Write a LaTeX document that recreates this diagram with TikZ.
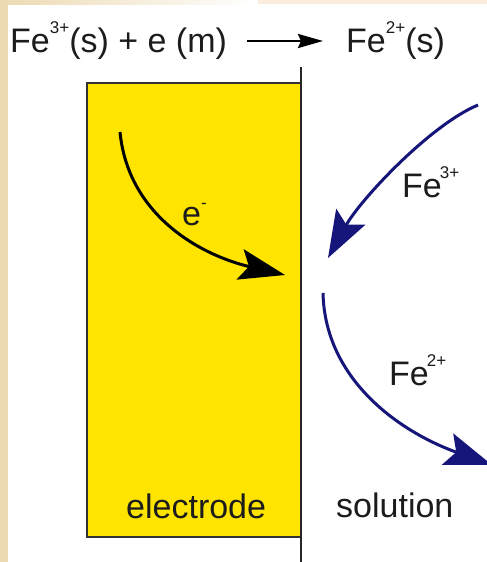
\documentclass[tikz,border=0pt]{standalone}
\usepackage{fontspec}
\setmainfont{Liberation Sans}
\usetikzlibrary{arrows.meta}
\definecolor{elyellow}{RGB}{255,228,0}
\definecolor{ionblue}{RGB}{22,22,122}
\definecolor{parch}{RGB}{236,218,178}
\definecolor{peach}{RGB}{252,236,221}
\definecolor{ink}{RGB}{28,28,28}
\newcommand\chgsup[2]{\kern#1\raisebox{19pt}{\fontsize{17}{17}\selectfont #2}}
\begin{document}
\begin{tikzpicture}[x=1pt,y=-1pt,
  lbl/.style={anchor=base west,inner sep=0pt,text=ink,font=\fontsize{34}{38}\selectfont},
  eflow/.style={line width=3pt,draw=black,-{Stealth[length=46pt,width=31pt,inset=9pt]}},
  ionflow/.style={line width=3pt,draw=ionblue,-{Stealth[length=47pt,width=33pt,inset=9pt]}},
  rxn/.style={line width=2.6pt,-{Stealth[length=25pt,width=14pt,inset=3pt]}}]
\useasboundingbox (0,0) rectangle (487,562);
\clip (0,0) rectangle (487,562);
% background
\fill[white] (0,0) rectangle (487,562);
\fill[parch] (0,0) rectangle (8,562);
\shade[left color=parch,right color=white] (0,0) rectangle (255,4);
\fill[peach] (258,0) rectangle (487,4);
% electrode
\filldraw[fill=elyellow,draw=black!80,line width=2.8pt] (87,83) rectangle (301,537);
\draw[line width=2.8pt,draw=black!85] (301,67) -- (301,562);
% reaction
\node[lbl] (lhs) at (10,52) {Fe\chgsup{0pt}{3+}(s) + e (m)};
\node[lbl] (rhs) at (346,52) {Fe\chgsup{0pt}{2+}(s)};
\coordinate (ra) at (247,41);
\coordinate (rb) at (323,41);
\draw[rxn] (ra) -- (rb);
% electron flow
\coordinate (e1) at (120,132);
\coordinate (e2) at (285,275);
\draw[eflow] (e1) .. controls (128,215) and (200,255) .. (e2);
\node[lbl] (elab) at (182,225) {e\raisebox{17pt}{\fontsize{17}{17}\selectfont -}};
% Fe3+ in
\coordinate (a1) at (478,105);
\coordinate (a2) at (328,258);
\draw[ionflow] (a1) .. controls (430,125) and (360,200) .. (a2);
\node[lbl] (l3) at (402,197) {Fe\chgsup{-2pt}{3+}};
% Fe2+ out
\coordinate (b1) at (323,293);
\coordinate (b2) at (492,465);
\draw[ionflow] (b1) .. controls (325,380) and (400,432) .. (b2);
\node[lbl] (l2) at (389,385) {Fe\chgsup{-2pt}{2+}};
% labels
\node[lbl] (electrode) at (126,518) {electrode};
\node[lbl] (solution) at (336,517) {solution};
\end{tikzpicture}
\end{document}
